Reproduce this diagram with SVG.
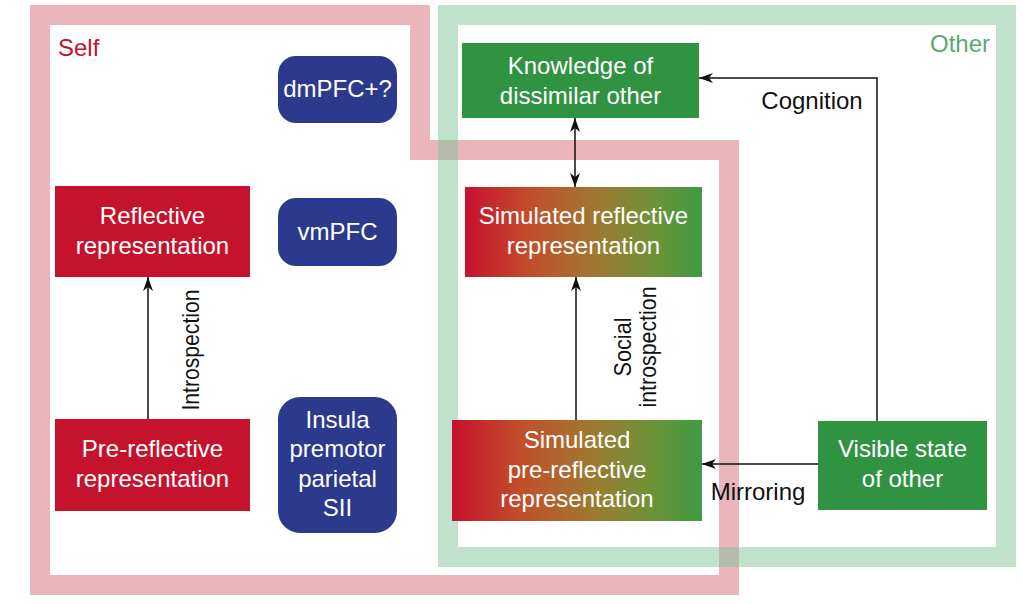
<svg xmlns="http://www.w3.org/2000/svg" width="1023" height="604" viewBox="0 0 1023 604">
<style>
.t{font-family:"Liberation Sans",Arial,sans-serif;font-size:24px;fill:#fff;text-anchor:middle}
.lbl{font-family:"Liberation Sans",Arial,sans-serif;font-size:24px;fill:#111;text-anchor:middle}
.rot{font-family:"Liberation Sans",Arial,sans-serif;font-size:24px;fill:#111;text-anchor:middle}
.red{fill:#c5122d}
.grn{fill:#2f9342}
.blu{fill:#2c3a8e}
.con{fill:none;stroke:#111;stroke-width:1.5}
</style>
<defs>
<linearGradient id="rg" x1="0" y1="0" x2="1" y2="0">
<stop offset="0" stop-color="#c8102e"/>
<stop offset="0.28" stop-color="#c24f2a"/>
<stop offset="0.55" stop-color="#a07830"/>
<stop offset="0.8" stop-color="#6d9338"/>
<stop offset="1" stop-color="#3f9a45"/>
</linearGradient>
<marker id="ah" viewBox="0 0 14 10" refX="14" refY="5" markerWidth="14" markerHeight="10" markerUnits="userSpaceOnUse" orient="auto-start-reverse">
<path d="M0,0 L14,5 L0,10 L4,5 z" fill="#111"/>
</marker>
</defs>
<rect width="1023" height="604" fill="#fff"/>
<g id="regions">
<polygon id="self-region" points="40,15 420,15 420,150 729,150 729,585 40,585" fill="none" stroke="#ebb5bc" stroke-width="20"/>
<rect id="other-region" x="448" y="15" width="558" height="542" fill="none" stroke="#82c49a" stroke-opacity="0.5" stroke-width="20"/>
<text x="58" y="56" style="font-family:'Liberation Sans',Arial,sans-serif;font-size:24px;fill:#c41230">Self</text>
<text x="990" y="52" style="font-family:'Liberation Sans',Arial,sans-serif;font-size:24px;fill:#5aaa6e;text-anchor:end">Other</text>
</g>
<g id="connectors">
<line class="con" x1="148" y1="419" x2="148" y2="277" marker-end="url(#ah)"/>
<line class="con" x1="576" y1="420" x2="576" y2="277" marker-end="url(#ah)"/>
<line class="con" x1="575" y1="118" x2="575" y2="187" marker-start="url(#ah)" marker-end="url(#ah)"/>
<polyline class="con" points="877,421 877,78 699,78" marker-end="url(#ah)"/>
<line class="con" x1="818" y1="464" x2="702" y2="464" marker-end="url(#ah)"/>
<text class="rot" transform="translate(199,350) rotate(-90)" textLength="121" lengthAdjust="spacingAndGlyphs">Introspection</text>
<text class="rot" transform="translate(631,347) rotate(-90)" textLength="59" lengthAdjust="spacingAndGlyphs">Social</text>
<text class="rot" transform="translate(656,347) rotate(-90)" textLength="121" lengthAdjust="spacingAndGlyphs">introspection</text>
<text class="lbl" x="812" y="109">Cognition</text>
<text class="lbl" x="758" y="500">Mirroring</text>
</g>
<g id="knowledge">
<rect class="grn" x="462" y="43" width="237" height="75"/>
<text class="t" x="580.5" y="74">Knowledge of</text>
<text class="t" x="580.5" y="104">dissimilar other</text>
</g>
<g id="dmpfc">
<rect class="blu" x="278" y="56" width="119" height="67" rx="18"/>
<text class="t" x="337.5" y="97">dmPFC+?</text>
</g>
<g id="reflective">
<rect class="red" x="55" y="186" width="195" height="91"/>
<text class="t" x="152.5" y="224">Reflective</text>
<text class="t" x="152.5" y="254">representation</text>
</g>
<g id="vmpfc">
<rect class="blu" x="278" y="198" width="119" height="68" rx="18"/>
<text class="t" x="337.5" y="240">vmPFC</text>
</g>
<g id="sim-reflective">
<rect x="465" y="187" width="237" height="90" fill="url(#rg)"/>
<text class="t" x="583.5" y="224">Simulated reflective</text>
<text class="t" x="583.5" y="254">representation</text>
</g>
<g id="pre-reflective">
<rect class="red" x="55" y="419" width="195" height="92"/>
<text class="t" x="152.5" y="457">Pre-reflective</text>
<text class="t" x="152.5" y="487">representation</text>
</g>
<g id="insula">
<rect class="blu" x="278" y="397" width="119" height="136" rx="22"/>
<text class="t" x="337.5" y="428">Insula</text>
<text class="t" x="337.5" y="457">premotor</text>
<text class="t" x="337.5" y="487">parietal</text>
<text class="t" x="337.5" y="516">SII</text>
</g>
<g id="sim-pre-reflective">
<rect x="452" y="420" width="250" height="101" fill="url(#rg)"/>
<text class="t" x="577" y="448">Simulated</text>
<text class="t" x="577" y="478">pre-reflective</text>
<text class="t" x="577" y="507">representation</text>
</g>
<g id="visible">
<rect class="grn" x="818" y="421" width="169" height="89"/>
<text class="t" x="902.5" y="457">Visible state</text>
<text class="t" x="902.5" y="487">of other</text>
</g>
</svg>
